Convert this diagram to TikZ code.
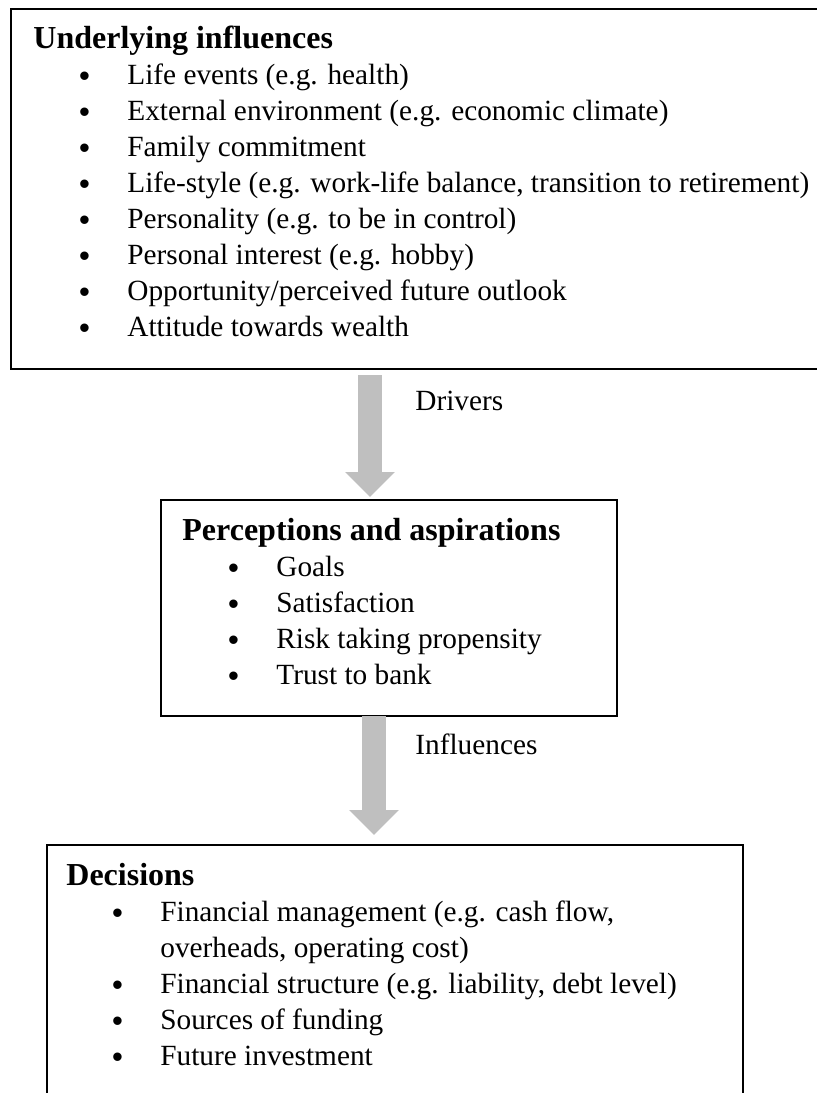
\documentclass[tikz,border=0pt]{standalone}
\usepackage{fontspec}
\setmainfont{Liberation Serif}
\newfontfamily\bulfont{Liberation Sans}
\usetikzlibrary{positioning, arrows.meta, calc}
\newcommand{\ttl}[1]{{\fontsize{16}{18}\selectfont\bfseries #1}\rule{0pt}{15pt}}
\newcommand{\dotb}{\raisebox{-1.2pt}{\bulfont\fontsize{15.5}{18}\selectfont\textbullet}}
\newcommand{\itm}[1]{\hspace*{22.8pt}\makebox[24.2pt][l]{\dotb}#1}
\newcommand{\cnt}[1]{\hspace*{47pt}#1}

\begin{document}
\begin{tikzpicture}[x=0.5pt,y=-0.5pt,
  box/.style={draw,line width=1pt,outer sep=0pt,inner sep=0pt,anchor=north west},
  txt/.style={anchor=north west,align=left,inner sep=0pt,font=\fontsize{14.65}{18}\selectfont},
  lbl/.style={anchor=base west,inner sep=0pt,font=\fontsize{14.65}{18}\selectfont},
  flow/.style={black!25,line width=12pt,-{Triangle[width=24pt,length=12.5pt]}}]
  \useasboundingbox (0,0) rectangle (817,1093);
  \clip (0,0) rectangle (817,1093);
  % boxes
  \node[box,minimum width=409.5pt,minimum height=180pt](under) at (11,9) {};
  \node[box,minimum width=228pt,minimum height=108pt](persp) at (161,500) {};
  \node[box,minimum width=348pt,minimum height=132.5pt](dec) at (47,845) {};
  % contents
  \node[txt](underT) at ($(under.north west)+(22,9)$) {\ttl{Underlying influences}\\
    \itm{Life events (e.g. health)}\\
    \itm{External environment (e.g. economic climate)}\\
    \itm{Family commitment}\\
    \itm{Life-style (e.g. work-life balance, transition to retirement)}\\
    \itm{Personality (e.g. to be in control)}\\
    \itm{Personal interest (e.g. hobby)}\\
    \itm{Opportunity/perceived future outlook}\\
    \itm{Attitude towards wealth}};
  \node[txt](perspT) at ($(persp.north west)+(21,10)$) {\ttl{Perceptions and aspirations}\\
    \itm{Goals}\\
    \itm{Satisfaction}\\
    \itm{Risk taking propensity}\\
    \itm{Trust to bank}};
  \node[txt](decT) at ($(dec.north west)+(19,10)$) {\ttl{Decisions}\\
    \itm{Financial management (e.g. cash flow,}\\
    \cnt{overheads, operating cost)}\\
    \itm{Financial structure (e.g. liability, debt level)}\\
    \itm{Sources of funding}\\
    \itm{Future investment}};
  % arrows
  \coordinate (a1) at (370,0);
  \coordinate (a2) at (374,0);
  \draw[flow]($(under.south -| a1)+(0,6)$)--($(persp.north -| a1)+(0,-3)$);
  \draw[flow](persp.south -| a2)--($(dec.north -| a2)+(0,-10)$);
  \node[lbl](drv) at (415,410) {Drivers};
  \node[lbl](inf) at (415,754) {Influences};
\end{tikzpicture}
\end{document}
